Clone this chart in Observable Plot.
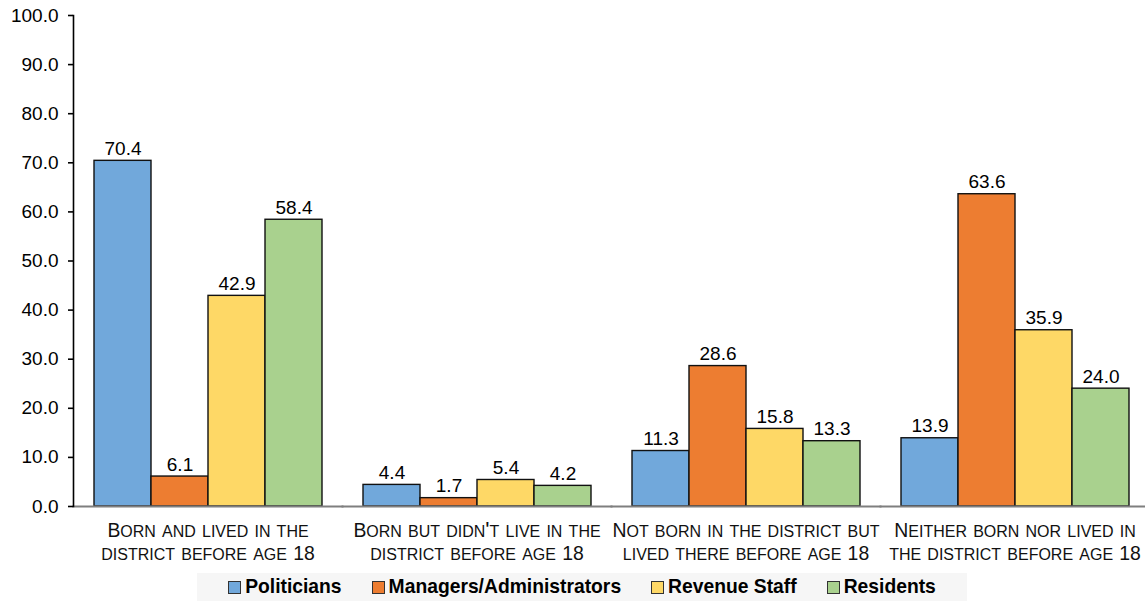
<!DOCTYPE html>
<html>
<head>
<meta charset="utf-8">
<script src="https://cdn.jsdelivr.net/npm/d3@7"></script>
<script src="https://cdn.jsdelivr.net/npm/@observablehq/plot@0.6"></script>
<style>
  html, body { margin: 0; padding: 0; background: #fff; }
  body { width: 1145px; height: 601px; overflow: hidden; font-family: "Liberation Sans", Arial, sans-serif; }
  #chart svg { display: block; overflow: visible; }
  #legend {
    position: absolute; left: 197px; top: 573px; width: 770px; height: 28px;
    background: #f6f6f6; display: flex; align-items: center; justify-content: center;
    font-weight: bold; font-size: 19.3px; color: #000;
  }
  #legend .item { display: flex; align-items: center; margin: 0 15px; }
  #legend .sw { width: 11px; height: 11px; border: 1.5px solid #333; margin-right: 4px; }
</style>
</head>
<body>
<div id="chart"></div>
<div id="legend"></div>
<script>
const categories = [
  "Born and lived in the\ndistrict before age 18",
  "Born but didn't live in the\ndistrict before age 18",
  "Not born in the district but\nlived there before age 18",
  "Neither born nor lived in\nthe district before age 18"
];
const series = ["Politicians", "Managers/Administrators", "Revenue Staff", "Residents"];
const colors = ["#71a8db", "#ed7d31", "#fed866", "#a9d18e"];
const politicians = [70.4, 4.4, 11.3, 13.9];
const managers = [6.1, 1.7, 28.6, 63.6];
const revenueStaff = [42.9, 5.4, 15.8, 35.9];
const residents = [58.4, 4.2, 13.3, 24.0];
const yTicks = [0, 10, 20, 30, 40, 50, 60, 70, 80, 90, 100];

const seriesValues = [politicians, managers, revenueStaff, residents];
const data = [];
categories.forEach((c, i) => {
  series.forEach((s, j) => data.push({category: c, series: s, value: seriesValues[j][i]}));
});
const fmt = d3.format(".1f");

// small-caps: lowercase synthesized at 70% of the text size; caps/digits set explicitly
const capSize = 19.4;
const lowerSize = 22.25;

const chart = Plot.plot({
  width: 1145,
  height: 568,
  marginLeft: 73,
  marginRight: 0,
  marginTop: 15,
  marginBottom: 62,
  style: {fontFamily: "Liberation Sans, Arial, sans-serif", color: "#000", background: "#fff"},
  fx: {domain: categories, padding: 0, range: [73, 1149], label: null},
  x: {domain: series, paddingInner: 0, paddingOuter: 0.33, axis: null},
  y: {domain: [0, 100], label: null},
  color: {domain: series, range: colors},
  marks: [
    Plot.barY(data, {fx: "category", x: "series", y: "value", fill: "series", stroke: "#111", strokeWidth: 1.4}),
    Plot.frame({anchor: "bottom", stroke: "#7f7f7f", strokeWidth: 2}),
    Plot.frame({anchor: "left", facetAnchor: "left", stroke: "#000", strokeWidth: 1.6}),
    Plot.text(data, {fx: "category", x: "series", y: "value", text: d => fmt(d.value), dy: -6, lineAnchor: "bottom", fontSize: 19, fill: "#000"}),
    Plot.axisY({ticks: yTicks, tickFormat: fmt, tickSize: 5, tickPadding: 10, fontSize: 19, stroke: "#000", strokeWidth: 1.6, label: null}),
    Plot.axisFx({anchor: "bottom", tickSize: 0, tickPadding: 14, fontSize: lowerSize, fontVariant: "small-caps", lineHeight: 1.04, label: null, fill: "#111"})
  ]
});

// make capitals and digits full size inside small-caps labels
d3.select(chart).selectAll("g[aria-label='fx-axis tick label'] text").each(function() {
  const text = d3.select(this);
  const lines = text.selectAll("tspan");
  const targets = lines.empty() ? [this] : lines.nodes();
  targets.forEach(node => {
    const str = node.textContent;
    const runs = str.match(/[A-Z0-9]+|[^A-Z0-9]+/g) || [];
    node.textContent = "";
    runs.forEach(r => {
      const t = document.createElementNS("http://www.w3.org/2000/svg", "tspan");
      t.textContent = r;
      if (/^[A-Z0-9]/.test(r)) t.setAttribute("font-size", capSize);
      node.appendChild(t);
    });
  });
});

document.getElementById("chart").appendChild(chart);

const legend = document.getElementById("legend");
series.forEach((s, i) => {
  const item = document.createElement("div");
  item.className = "item";
  const sw = document.createElement("div");
  sw.className = "sw";
  sw.style.background = colors[i];
  const t = document.createElement("span");
  t.textContent = s;
  item.appendChild(sw);
  item.appendChild(t);
  legend.appendChild(item);
});
</script>
</body>
</html>
